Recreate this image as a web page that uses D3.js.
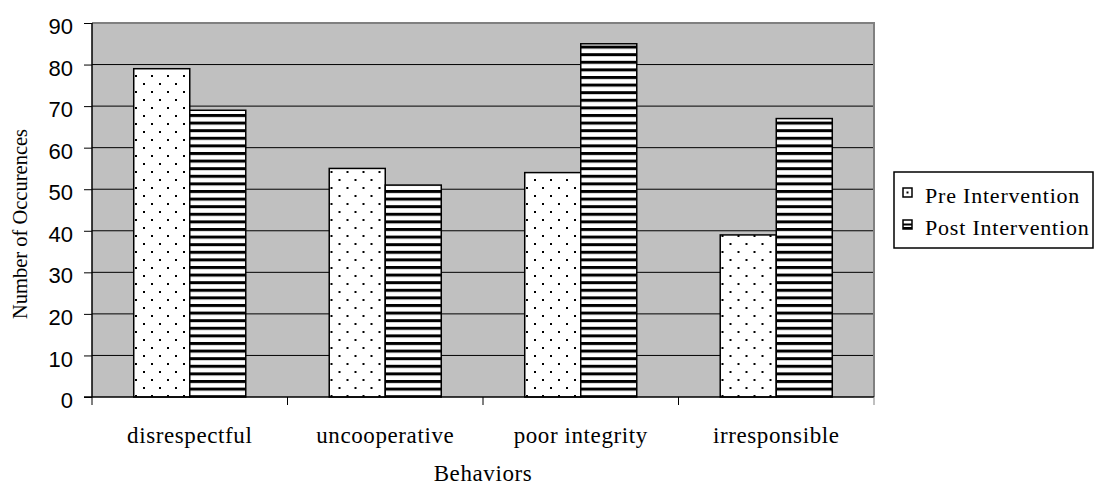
<!DOCTYPE html>
<html>
<head>
<meta charset="utf-8">
<script src="https://cdn.jsdelivr.net/npm/d3@7"></script>
<style>
  html, body { margin: 0; padding: 0; background: #fff; }
  svg { display: block; }
</style>
</head>
<body>
<svg id="chart" width="1098" height="486"></svg>
<script>
const categories = ["disrespectful", "uncooperative", "poor integrity", "irresponsible"];
const seriesNames = ["Pre Intervention", "Post Intervention"];
const preValues = [79, 55, 54, 39];
const postValues = [69, 51, 85, 67];
const yTicks = [0, 10, 20, 30, 40, 50, 60, 70, 80, 90];

const svg = d3.select("#chart");
const plot = { left: 92, right: 874, top: 23, bottom: 397 };
const serif = "Liberation Serif, Times New Roman, serif";

const defs = svg.append("defs");
const dots = defs.append("pattern").attr("id", "dots").attr("patternUnits", "userSpaceOnUse")
  .attr("width", 16).attr("height", 16);
dots.append("rect").attr("width", 16).attr("height", 16).attr("fill", "#fff");
dots.append("rect").attr("x", 3).attr("y", 3).attr("width", 2).attr("height", 2).attr("fill", "#000");
dots.append("rect").attr("x", 11).attr("y", 11).attr("width", 2).attr("height", 2).attr("fill", "#000");

const stripes = defs.append("pattern").attr("id", "stripes").attr("patternUnits", "userSpaceOnUse")
  .attr("width", 16).attr("height", 7.6);
stripes.append("rect").attr("width", 16).attr("height", 7.6).attr("fill", "#fff");
stripes.append("rect").attr("y", 0).attr("width", 16).attr("height", 3).attr("fill", "#000");

const x0 = d3.scaleBand().domain(categories).range([plot.left, plot.right]).paddingInner(0).paddingOuter(0);
const x1 = d3.scaleBand().domain(seriesNames).range([0, x0.bandwidth()]).paddingInner(0).paddingOuter(0.745);
const y = d3.scaleLinear().domain([0, 90]).range([plot.bottom, plot.top]);

// plot background
svg.append("rect").attr("x", plot.left).attr("y", plot.top)
  .attr("width", plot.right - plot.left).attr("height", plot.bottom - plot.top)
  .attr("fill", "#c0c0c0");

// gridlines
svg.append("g").selectAll("line").data(yTicks.filter(t => t > 0 && t < 90)).join("line")
  .attr("x1", plot.left).attr("x2", plot.right)
  .attr("y1", d => y(d)).attr("y2", d => y(d))
  .attr("stroke", "#000").attr("stroke-width", 1);

// plot border top/right (gray)
svg.append("path")
  .attr("d", `M${plot.left},${plot.top}H${plot.right}V${plot.bottom}`)
  .attr("fill", "none").attr("stroke", "#808080").attr("stroke-width", 2);

// bars
const fills = { "Pre Intervention": "url(#dots)", "Post Intervention": "url(#stripes)" };
const data = categories.map((c, i) => ({ cat: c, vals: [
  { s: seriesNames[0], v: preValues[i] },
  { s: seriesNames[1], v: postValues[i] }
]}));
const groups = svg.append("g").selectAll("g").data(data).join("g")
  .attr("transform", d => `translate(${x0(d.cat)},0)`);
groups.selectAll("rect").data(d => d.vals).join("rect")
  .attr("x", d => x1(d.s)).attr("width", x1.bandwidth())
  .attr("y", d => y(d.v)).attr("height", d => y(0) - y(d.v))
  .attr("fill", d => fills[d.s]).attr("stroke", "#000").attr("stroke-width", 1.5);

// y axis
const yAxis = d3.axisLeft(y).tickValues(yTicks).tickSize(8).tickPadding(11).tickFormat(d3.format("d"));
const gy = svg.append("g").attr("transform", `translate(${plot.left},0)`).call(yAxis);
gy.select(".domain").attr("stroke", "#000").attr("stroke-width", 1.5).attr("d", `M0,${plot.top}V${plot.bottom}`);
gy.selectAll(".tick line").attr("stroke", "#000");
gy.selectAll(".tick text").attr("font-family", "Liberation Sans, Arial, sans-serif")
  .attr("font-size", 22).attr("fill", "#000").attr("dy", "0.48em");

// x axis
const xAxis = d3.axisBottom(x0).tickSize(0).tickPadding(0);
const gx = svg.append("g").attr("transform", `translate(0,${plot.bottom})`).call(xAxis);
gx.select(".domain").remove();
gx.selectAll(".tick text").attr("y", 46).attr("dy", 0)
  .attr("font-family", serif).attr("font-size", 23)
  .attr("letter-spacing", "0.6px").attr("fill", "#000");
svg.append("line").attr("x1", plot.left - 8).attr("x2", plot.right)
  .attr("y1", plot.bottom).attr("y2", plot.bottom).attr("stroke", "#000").attr("stroke-width", 1.5);
const bounds = [...categories.map(c => x0(c)), plot.right];
svg.append("g").selectAll("line").data(bounds).join("line")
  .attr("x1", d => d).attr("x2", d => d)
  .attr("y1", plot.bottom).attr("y2", plot.bottom + 8)
  .attr("stroke", d => d === plot.right ? "#808080" : "#000").attr("stroke-width", 1);

// axis titles
svg.append("text").attr("x", (plot.left + plot.right) / 2).attr("y", 481)
  .attr("text-anchor", "middle").attr("font-family", serif)
  .attr("font-size", 23).attr("letter-spacing", "0.6px").text("Behaviors");
svg.append("text").attr("transform", `translate(27,224) rotate(-90)`)
  .attr("text-anchor", "middle").attr("font-family", serif)
  .attr("font-size", 20.5).text("Number of Occurences");

// legend
const lg = svg.append("g").attr("transform", "translate(894,172)");
lg.append("rect").attr("width", 199).attr("height", 76).attr("fill", "#fff")
  .attr("stroke", "#000").attr("stroke-width", 1.5);
const items = lg.selectAll("g").data(seriesNames).join("g")
  .attr("transform", (d, i) => `translate(0,${i * 32})`);
items.append("rect").attr("x", 9).attr("y", 16).attr("width", 9).attr("height", 9)
  .attr("fill", "#fff").attr("stroke", "#000").attr("stroke-width", 1.5);
items.filter(d => d === seriesNames[0]).append("rect").attr("x", 12.5).attr("y", 19.5).attr("width", 2).attr("height", 2).attr("fill", "#000");
items.filter(d => d === seriesNames[1]).append("rect").attr("x", 9).attr("y", 19.5).attr("width", 9).attr("height", 2).attr("fill", "#000");
items.filter(d => d === seriesNames[1]).append("rect").attr("x", 9).attr("y", 23).attr("width", 9).attr("height", 2).attr("fill", "#000");
items.append("text").attr("x", 31).attr("y", 31)
  .attr("font-family", serif).attr("font-size", 22)
  .attr("letter-spacing", "0.8px").attr("fill", "#000").text(d => d);
</script>
</body>
</html>
